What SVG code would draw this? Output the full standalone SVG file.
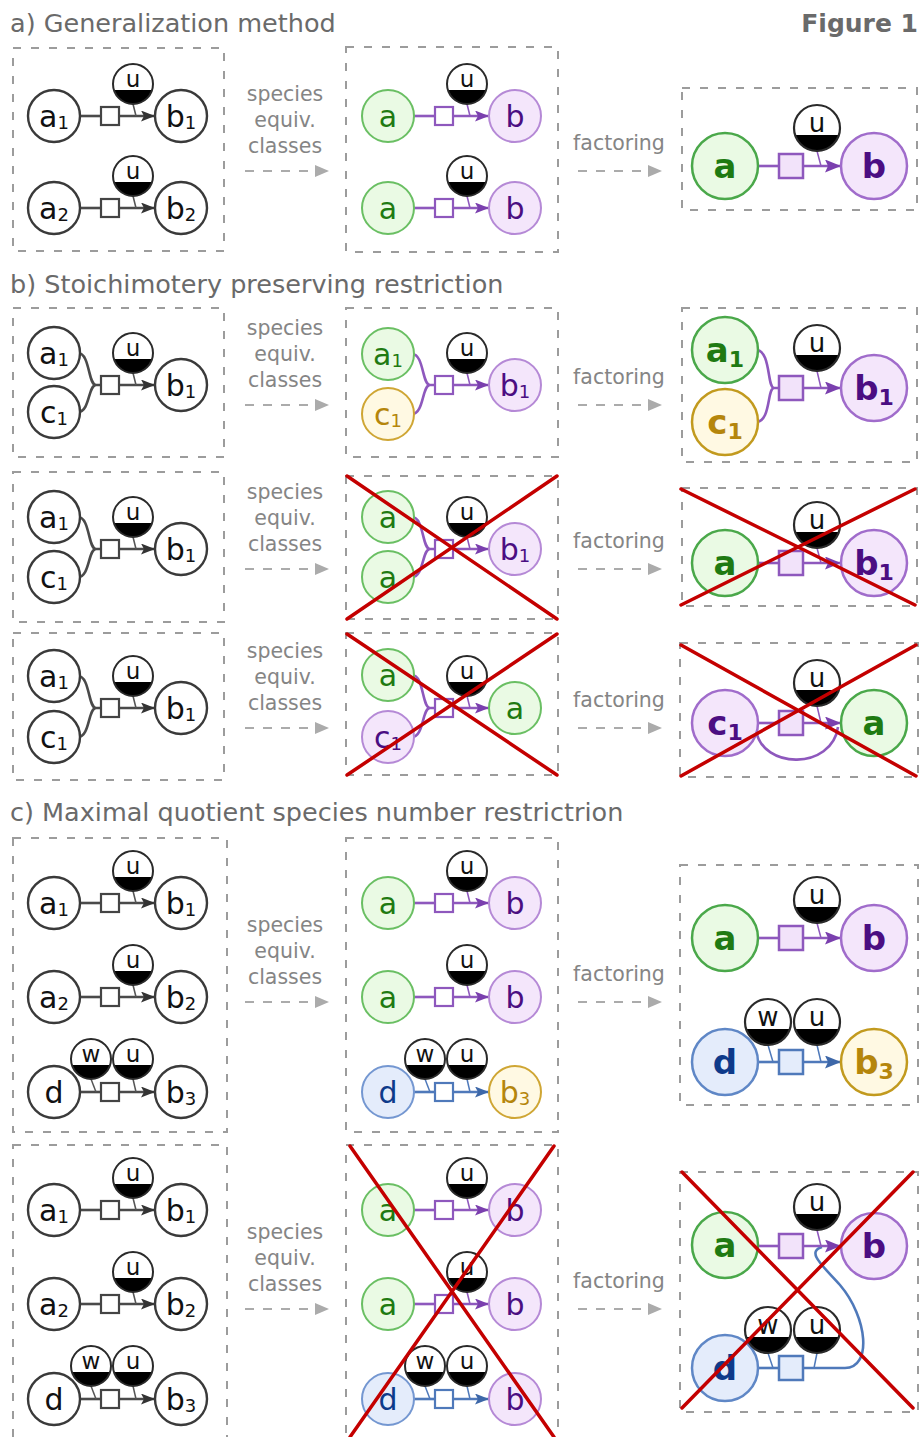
<svg xmlns="http://www.w3.org/2000/svg" xmlns:xlink="http://www.w3.org/1999/xlink" width="922" height="1437" viewBox="0 0 922 1437">
<defs>
<style>
text{font-family:'DejaVu Sans','Liberation Sans',sans-serif}
.title{font-size:25.5px;fill:#6a6a6a}
.fig{font-size:25px;font-weight:bold;fill:#6a6a6a;text-anchor:end}
.lab{font-size:20.5px;fill:#858585;text-anchor:middle}
.box{fill:none;stroke:#9c9c9c;stroke-width:2;stroke-dasharray:8 10}
.da{fill:none;stroke:#ababab;stroke-width:2;stroke-dasharray:9 9}
.n0{fill:#fff;stroke:#3a3a3a;stroke-width:2.4}
.ng{fill:#eafae4;stroke:#6abf63;stroke-width:2}
.np{fill:#f4e6fb;stroke:#b589d6;stroke-width:2}
.ny{fill:#fff9e3;stroke:#cfa634;stroke-width:2}
.nb{fill:#e4ecfb;stroke:#7497d1;stroke-width:2}
.Ng{fill:#eafae4;stroke:#4aa84a;stroke-width:2.5}
.Np{fill:#f4e6fb;stroke:#a06ccb;stroke-width:2.5}
.Ny{fill:#fff9e3;stroke:#c29a1e;stroke-width:2.5}
.Nb{fill:#e4ecfb;stroke:#5f87c6;stroke-width:2.5}
.t{font-size:30px;text-anchor:middle;fill:#111}
.T{font-size:34px;font-weight:bold;text-anchor:middle}
.s{font-size:18px}
.S{font-size:22px}
.tg{fill:#1f7a12}.tp{fill:#4b0e82}.ty{fill:#b5860c}.tb{fill:#0e3a8a}
.tu{font-size:23px;text-anchor:middle;fill:#111}
.TU{font-size:26px;text-anchor:middle;fill:#111}
.lk{fill:none;stroke:#4a4a4a;stroke-width:2.6}
.lp{fill:none;stroke:#8e58bd;stroke-width:2.6}
.lb{fill:none;stroke:#4f79ba;stroke-width:2.6}
.mk{fill:none;stroke:#555;stroke-width:1.5}
.mp{fill:none;stroke:#8e58bd;stroke-width:1.5}
.mb{fill:none;stroke:#4f79ba;stroke-width:1.5}
.sk{fill:#fff;stroke:#444;stroke-width:2.2}
.sp{fill:#fff;stroke:#8e58bd;stroke-width:2.2}
.sb{fill:#fff;stroke:#4f79ba;stroke-width:2.2}
.Sp{fill:#f2e3fa;stroke:#8e58bd;stroke-width:2.5}
.Sb{fill:#e4ecfb;stroke:#4f79ba;stroke-width:2.5}
.x{stroke:#c40000;stroke-width:3.5;stroke-linecap:round}
</style>
<marker id="ak" markerUnits="userSpaceOnUse" markerWidth="15" markerHeight="11" refX="14" refY="5.5" orient="auto"><path d="M0,0 L14,5.5 L0,11 L3,5.5 Z" fill="#333"/></marker>
<marker id="ap" markerUnits="userSpaceOnUse" markerWidth="15" markerHeight="11" refX="14" refY="5.5" orient="auto"><path d="M0,0 L14,5.5 L0,11 L3,5.5 Z" fill="#7a3fae"/></marker>
<marker id="ab" markerUnits="userSpaceOnUse" markerWidth="15" markerHeight="11" refX="14" refY="5.5" orient="auto"><path d="M0,0 L14,5.5 L0,11 L3,5.5 Z" fill="#3d67a8"/></marker>
<marker id="aP" markerUnits="userSpaceOnUse" markerWidth="17" markerHeight="13" refX="16" refY="6.5" orient="auto"><path d="M0,0 L16,6.5 L0,13 L3,6.5 Z" fill="#7a3fae"/></marker>
<marker id="aB" markerUnits="userSpaceOnUse" markerWidth="17" markerHeight="13" refX="16" refY="6.5" orient="auto"><path d="M0,0 L16,6.5 L0,13 L3,6.5 Z" fill="#3d67a8"/></marker>
<marker id="ag" markerUnits="userSpaceOnUse" markerWidth="15" markerHeight="12" refX="14" refY="6" orient="auto"><path d="M0,0 L14,6 L0,12 Z" fill="#ababab"/></marker>
<g id="m"><circle r="20" fill="#fff"/><path d="M-19.1,6 A20,20 0 0 0 19.1,6 Z" fill="#000"/><circle r="20" fill="none" stroke="#2a2a2a" stroke-width="2"/></g>
<g id="M"><circle r="23" fill="#fff"/><path d="M-22,7 A23,23 0 0 0 22,7 Z" fill="#000"/><circle r="23" fill="none" stroke="#2a2a2a" stroke-width="2.2"/></g>
</defs>

<g id="titles">
<text class="title" x="10" y="32">a) Generalization method</text>
<text class="fig" x="918" y="32">Figure 1</text>
<text class="title" x="10" y="293">b) Stoichimotery preserving restriction</text>
<text class="title" x="10" y="821">c) Maximal quotient species number restrictrion</text>
</g>

<g id="boxes">
<rect class="box" x="13" y="48" width="211" height="203"/>
<rect class="box" x="346" y="47" width="212" height="205"/>
<rect class="box" x="682" y="88" width="235" height="122"/>
<rect class="box" x="13" y="308" width="211" height="149"/>
<rect class="box" x="346" y="308" width="212" height="149"/>
<rect class="box" x="682" y="308" width="235" height="154"/>
<rect class="box" x="13" y="472" width="211" height="150"/>
<rect class="box" x="346" y="476" width="212" height="143"/>
<rect class="box" x="682" y="488" width="235" height="118"/>
<rect class="box" x="13" y="633" width="211" height="147"/>
<rect class="box" x="346" y="633" width="212" height="142"/>
<rect class="box" x="680" y="643" width="238" height="134"/>
<rect class="box" x="13" y="838" width="214" height="294"/>
<rect class="box" x="346" y="838" width="212" height="294"/>
<rect class="box" x="680" y="865" width="238" height="240"/>
<rect class="box" x="13" y="1145" width="214" height="310"/>
<rect class="box" x="346" y="1145" width="212" height="310"/>
<rect class="box" x="680" y="1172" width="238" height="240"/>
</g>

<g id="labels">
<text class="lab" x="285" y="101">species</text><text class="lab" x="285" y="127">equiv.</text><text class="lab" x="285" y="153">classes</text>
<text class="lab" x="619" y="150">factoring</text>
<text class="lab" x="285" y="335">species</text><text class="lab" x="285" y="361">equiv.</text><text class="lab" x="285" y="387">classes</text>
<text class="lab" x="619" y="384">factoring</text>
<text class="lab" x="285" y="499">species</text><text class="lab" x="285" y="525">equiv.</text><text class="lab" x="285" y="551">classes</text>
<text class="lab" x="619" y="548">factoring</text>
<text class="lab" x="285" y="658">species</text><text class="lab" x="285" y="684">equiv.</text><text class="lab" x="285" y="710">classes</text>
<text class="lab" x="619" y="707">factoring</text>
<text class="lab" x="285" y="932">species</text><text class="lab" x="285" y="958">equiv.</text><text class="lab" x="285" y="984">classes</text>
<text class="lab" x="619" y="981">factoring</text>
<text class="lab" x="285" y="1239">species</text><text class="lab" x="285" y="1265">equiv.</text><text class="lab" x="285" y="1291">classes</text>
<text class="lab" x="619" y="1288">factoring</text>
</g>

<g id="connectors">
<path class="da" d="M245,171H329" marker-end="url(#ag)"/><path class="da" d="M578,171H662" marker-end="url(#ag)"/>
<path class="da" d="M245,405H329" marker-end="url(#ag)"/><path class="da" d="M578,405H662" marker-end="url(#ag)"/>
<path class="da" d="M245,569H329" marker-end="url(#ag)"/><path class="da" d="M578,569H662" marker-end="url(#ag)"/>
<path class="da" d="M245,728H329" marker-end="url(#ag)"/><path class="da" d="M578,728H662" marker-end="url(#ag)"/>
<path class="da" d="M245,1002H329" marker-end="url(#ag)"/><path class="da" d="M578,1002H662" marker-end="url(#ag)"/>
<path class="da" d="M245,1309H329" marker-end="url(#ag)"/><path class="da" d="M578,1309H662" marker-end="url(#ag)"/>

<path class="lk" d="M80,116H101"/><path class="lk" d="M119,116H155" marker-end="url(#ak)"/><path class="mk" d="M133,104L136,116"/>
<path class="lk" d="M80,208H101"/><path class="lk" d="M119,208H155" marker-end="url(#ak)"/><path class="mk" d="M133,196L136,208"/>
<path class="lp" d="M414,116H435"/><path class="lp" d="M453,116H489" marker-end="url(#ap)"/><path class="mp" d="M467,104L470,116"/>
<path class="lp" d="M414,208H435"/><path class="lp" d="M453,208H489" marker-end="url(#ap)"/><path class="mp" d="M467,196L470,208"/>
<path class="lp" d="M758,166H779"/><path class="lp" d="M803,166H841" marker-end="url(#aP)"/><path class="mp" d="M817,151L821,166"/>

<path class="lk" d="M78,353C90,353 88,385 96,385H101M78,412C90,412 88,385 96,385"/><path class="lk" d="M119,385H155" marker-end="url(#ak)"/><path class="mk" d="M133,373L136,385"/>
<path class="lp" d="M412,354C424,354 422,385 430,385H435M412,414C424,414 422,385 430,385"/><path class="lp" d="M453,385H489" marker-end="url(#ap)"/><path class="mp" d="M467,373L470,385"/>
<path class="lp" d="M756,350C771,350 767,388 774,388H779M756,422C771,422 767,388 774,388"/><path class="lp" d="M803,388H841" marker-end="url(#aP)"/><path class="mp" d="M817,371L821,388"/>
<path class="lk" d="M78,517C90,517 88,549 96,549H101M78,577C90,577 88,549 96,549"/><path class="lk" d="M119,549H155" marker-end="url(#ak)"/><path class="mk" d="M133,537L136,549"/>
<path class="lp" d="M412,517C424,517 422,549 430,549H435M412,577C424,577 422,549 430,549"/><path class="lp" d="M453,549H489" marker-end="url(#ap)"/><path class="mp" d="M467,537L470,549"/>
<path class="lp" d="M758,563H779"/><path class="lp" d="M803,563H841" marker-end="url(#aP)"/><path class="mp" d="M817,548L821,563"/>
<path class="lk" d="M78,676C90,676 88,708 96,708H101M78,737C90,737 88,708 96,708"/><path class="lk" d="M119,708H155" marker-end="url(#ak)"/><path class="mk" d="M133,696L136,708"/>
<path class="lp" d="M412,675C424,675 422,708 430,708H435M412,737C424,737 422,708 430,708"/><path class="lp" d="M453,708H489" marker-end="url(#ap)"/><path class="mp" d="M467,696L470,708"/>
<path class="lp" d="M758,723H779"/><path class="lp" d="M803,723H841" marker-end="url(#aP)"/><path class="mp" d="M817,706L821,723"/>
<path class="lp" d="M756,730C762,770 832,770 838,727"/>

<path class="lk" d="M80,903H101"/><path class="lk" d="M119,903H155" marker-end="url(#ak)"/><path class="mk" d="M133,891L136,903"/>
<path class="lk" d="M80,997H101"/><path class="lk" d="M119,997H155" marker-end="url(#ak)"/><path class="mk" d="M133,985L136,997"/>
<path class="lk" d="M80,1092H101"/><path class="lk" d="M119,1092H155" marker-end="url(#ak)"/><path class="mk" d="M91,1079L96,1092"/><path class="mk" d="M133,1079L136,1092"/>
<path class="lp" d="M414,903H435"/><path class="lp" d="M453,903H489" marker-end="url(#ap)"/><path class="mp" d="M467,891L470,903"/>
<path class="lp" d="M414,997H435"/><path class="lp" d="M453,997H489" marker-end="url(#ap)"/><path class="mp" d="M467,985L470,997"/>
<path class="lb" d="M414,1092H435"/><path class="lb" d="M453,1092H489" marker-end="url(#ab)"/><path class="mb" d="M425,1079L430,1092"/><path class="mb" d="M467,1079L470,1092"/>
<path class="lp" d="M758,938H779"/><path class="lp" d="M803,938H841" marker-end="url(#aP)"/><path class="mp" d="M817,923L821,938"/>
<path class="lb" d="M758,1062H779"/><path class="lb" d="M803,1062H841" marker-end="url(#aB)"/><path class="mb" d="M768,1045L773,1062"/><path class="mb" d="M817,1045L821,1062"/>

<path class="lk" d="M80,1210H101"/><path class="lk" d="M119,1210H155" marker-end="url(#ak)"/><path class="mk" d="M133,1198L136,1210"/>
<path class="lk" d="M80,1304H101"/><path class="lk" d="M119,1304H155" marker-end="url(#ak)"/><path class="mk" d="M133,1292L136,1304"/>
<path class="lk" d="M80,1399H101"/><path class="lk" d="M119,1399H155" marker-end="url(#ak)"/><path class="mk" d="M91,1386L96,1399"/><path class="mk" d="M133,1386L136,1399"/>
<path class="lp" d="M414,1210H435"/><path class="lp" d="M453,1210H489" marker-end="url(#ap)"/><path class="mp" d="M467,1198L470,1210"/>
<path class="lp" d="M414,1304H435"/><path class="lp" d="M453,1304H489" marker-end="url(#ap)"/><path class="mp" d="M467,1292L470,1304"/>
<path class="lb" d="M414,1399H435"/><path class="lb" d="M453,1399H489" marker-end="url(#ab)"/><path class="mb" d="M425,1386L430,1399"/><path class="mb" d="M467,1386L470,1399"/>
<path class="lb" d="M758,1368H779"/><path class="mb" d="M768,1353L773,1368"/><path class="mb" d="M817,1353L814,1368"/>
<path class="lb" d="M803,1368H845C872,1368 868,1318 840,1285C822,1265 806,1252 822,1247"/>
<path class="lp" d="M758,1246H779"/><path class="lp" d="M803,1246H841" marker-end="url(#aP)"/><path class="mp" d="M817,1230L821,1246"/>
</g>

<g id="A-c1-a1"><circle class="n0" cx="54" cy="116" r="26"/><text class="t" x="54" y="127">a<tspan class="s" dy="2">1</tspan></text></g>
<g id="A-c1-r1"><rect class="sk" x="101" y="107" width="18" height="18"/></g>
<g id="A-c1-u1"><use xlink:href="#m" href="#m" x="133" y="84"/><text class="tu" x="133" y="87">u</text></g>
<g id="A-c1-b1"><circle class="n0" cx="181" cy="116" r="26"/><text class="t" x="181" y="127">b<tspan class="s" dy="2">1</tspan></text></g>
<g id="A-c1-a2"><circle class="n0" cx="54" cy="208" r="26"/><text class="t" x="54" y="219">a<tspan class="s" dy="2">2</tspan></text></g>
<g id="A-c1-r2"><rect class="sk" x="101" y="199" width="18" height="18"/></g>
<g id="A-c1-u2"><use xlink:href="#m" href="#m" x="133" y="176"/><text class="tu" x="133" y="179">u</text></g>
<g id="A-c1-b2"><circle class="n0" cx="181" cy="208" r="26"/><text class="t" x="181" y="219">b<tspan class="s" dy="2">2</tspan></text></g>

<g id="A-c2-a1"><circle class="ng" cx="388" cy="116" r="26"/><text class="t tg" x="388" y="127">a</text></g>
<g id="A-c2-r1"><rect class="sp" x="435" y="107" width="18" height="18"/></g>
<g id="A-c2-u1"><use xlink:href="#m" href="#m" x="467" y="84"/><text class="tu" x="467" y="87">u</text></g>
<g id="A-c2-b1"><circle class="np" cx="515" cy="116" r="26"/><text class="t tp" x="515" y="127">b</text></g>
<g id="A-c2-a2"><circle class="ng" cx="388" cy="208" r="26"/><text class="t tg" x="388" y="219">a</text></g>
<g id="A-c2-r2"><rect class="sp" x="435" y="199" width="18" height="18"/></g>
<g id="A-c2-u2"><use xlink:href="#m" href="#m" x="467" y="176"/><text class="tu" x="467" y="179">u</text></g>
<g id="A-c2-b2"><circle class="np" cx="515" cy="208" r="26"/><text class="t tp" x="515" y="219">b</text></g>

<g id="A-c3-a"><circle class="Ng" cx="725" cy="166" r="33"/><text class="T tg" x="725" y="178">a</text></g>
<g id="A-c3-r"><rect class="Sp" x="779" y="154" width="24" height="24"/></g>
<g id="A-c3-u"><use xlink:href="#M" href="#M" x="817" y="128"/><text class="TU" x="817" y="131.5">u</text></g>
<g id="A-c3-b"><circle class="Np" cx="874" cy="166" r="33"/><text class="T tp" x="874" y="178">b</text></g>

<g id="B1-c1-a1"><circle class="n0" cx="54" cy="353" r="26"/><text class="t" x="54" y="364">a<tspan class="s" dy="2">1</tspan></text></g>
<g id="B1-c1-c1"><circle class="n0" cx="54" cy="412" r="26"/><text class="t" x="54" y="423">c<tspan class="s" dy="2">1</tspan></text></g>
<g id="B1-c1-r"><rect class="sk" x="101" y="376" width="18" height="18"/></g>
<g id="B1-c1-u"><use xlink:href="#m" href="#m" x="133" y="353"/><text class="tu" x="133" y="356">u</text></g>
<g id="B1-c1-b1"><circle class="n0" cx="181" cy="385" r="26"/><text class="t" x="181" y="396">b<tspan class="s" dy="2">1</tspan></text></g>

<g id="B1-c2-a1"><circle class="ng" cx="388" cy="354" r="26"/><text class="t tg" x="388" y="365">a<tspan class="s" dy="2">1</tspan></text></g>
<g id="B1-c2-c1"><circle class="ny" cx="388" cy="414" r="26"/><text class="t ty" x="388" y="425">c<tspan class="s" dy="2">1</tspan></text></g>
<g id="B1-c2-r"><rect class="sp" x="435" y="376" width="18" height="18"/></g>
<g id="B1-c2-u"><use xlink:href="#m" href="#m" x="467" y="353"/><text class="tu" x="467" y="356">u</text></g>
<g id="B1-c2-b1"><circle class="np" cx="515" cy="385" r="26"/><text class="t tp" x="515" y="396">b<tspan class="s" dy="2">1</tspan></text></g>

<g id="B1-c3-a1"><circle class="Ng" cx="725" cy="350" r="33"/><text class="T tg" x="725" y="362">a<tspan class="S" dy="5">1</tspan></text></g>
<g id="B1-c3-c1"><circle class="Ny" cx="725" cy="422" r="33"/><text class="T ty" x="725" y="434">c<tspan class="S" dy="5">1</tspan></text></g>
<g id="B1-c3-r"><rect class="Sp" x="779" y="376" width="24" height="24"/></g>
<g id="B1-c3-u"><use xlink:href="#M" href="#M" x="817" y="348"/><text class="TU" x="817" y="351.5">u</text></g>
<g id="B1-c3-b1"><circle class="Np" cx="874" cy="388" r="33"/><text class="T tp" x="874" y="400">b<tspan class="S" dy="5">1</tspan></text></g>

<g id="B2-c1-a1"><circle class="n0" cx="54" cy="517" r="26"/><text class="t" x="54" y="528">a<tspan class="s" dy="2">1</tspan></text></g>
<g id="B2-c1-c1"><circle class="n0" cx="54" cy="577" r="26"/><text class="t" x="54" y="588">c<tspan class="s" dy="2">1</tspan></text></g>
<g id="B2-c1-r"><rect class="sk" x="101" y="540" width="18" height="18"/></g>
<g id="B2-c1-u"><use xlink:href="#m" href="#m" x="133" y="517"/><text class="tu" x="133" y="520">u</text></g>
<g id="B2-c1-b1"><circle class="n0" cx="181" cy="549" r="26"/><text class="t" x="181" y="560">b<tspan class="s" dy="2">1</tspan></text></g>

<g id="B2-c2-a1"><circle class="ng" cx="388" cy="517" r="26"/><text class="t tg" x="388" y="528">a</text></g>
<g id="B2-c2-a2"><circle class="ng" cx="388" cy="577" r="26"/><text class="t tg" x="388" y="588">a</text></g>
<g id="B2-c2-r"><rect class="sp" x="435" y="540" width="18" height="18"/></g>
<g id="B2-c2-u"><use xlink:href="#m" href="#m" x="467" y="517"/><text class="tu" x="467" y="520">u</text></g>
<g id="B2-c2-b1"><circle class="np" cx="515" cy="549" r="26"/><text class="t tp" x="515" y="560">b<tspan class="s" dy="2">1</tspan></text></g>

<g id="B2-c3-a"><circle class="Ng" cx="725" cy="563" r="33"/><text class="T tg" x="725" y="575">a</text></g>
<g id="B2-c3-r"><rect class="Sp" x="779" y="551" width="24" height="24"/></g>
<g id="B2-c3-u"><use xlink:href="#M" href="#M" x="817" y="525"/><text class="TU" x="817" y="528.5">u</text></g>
<g id="B2-c3-b1"><circle class="Np" cx="874" cy="563" r="33"/><text class="T tp" x="874" y="575">b<tspan class="S" dy="5">1</tspan></text></g>

<g id="B3-c1-a1"><circle class="n0" cx="54" cy="676" r="26"/><text class="t" x="54" y="687">a<tspan class="s" dy="2">1</tspan></text></g>
<g id="B3-c1-c1"><circle class="n0" cx="54" cy="737" r="26"/><text class="t" x="54" y="748">c<tspan class="s" dy="2">1</tspan></text></g>
<g id="B3-c1-r"><rect class="sk" x="101" y="699" width="18" height="18"/></g>
<g id="B3-c1-u"><use xlink:href="#m" href="#m" x="133" y="676"/><text class="tu" x="133" y="679">u</text></g>
<g id="B3-c1-b1"><circle class="n0" cx="181" cy="708" r="26"/><text class="t" x="181" y="719">b<tspan class="s" dy="2">1</tspan></text></g>

<g id="B3-c2-a"><circle class="ng" cx="388" cy="675" r="26"/><text class="t tg" x="388" y="686">a</text></g>
<g id="B3-c2-c1"><circle class="np" cx="388" cy="737" r="26"/><text class="t tp" x="388" y="748">c<tspan class="s" dy="2">1</tspan></text></g>
<g id="B3-c2-r"><rect class="sp" x="435" y="699" width="18" height="18"/></g>
<g id="B3-c2-u"><use xlink:href="#m" href="#m" x="467" y="676"/><text class="tu" x="467" y="679">u</text></g>
<g id="B3-c2-a2"><circle class="ng" cx="515" cy="708" r="26"/><text class="t tg" x="515" y="719">a</text></g>

<g id="B3-c3-c1"><circle class="Np" cx="725" cy="723" r="33"/><text class="T tp" x="725" y="735">c<tspan class="S" dy="5">1</tspan></text></g>
<g id="B3-c3-r"><rect class="Sp" x="779" y="711" width="24" height="24"/></g>
<g id="B3-c3-u"><use xlink:href="#M" href="#M" x="817" y="683"/><text class="TU" x="817" y="686.5">u</text></g>
<g id="B3-c3-a"><circle class="Ng" cx="874" cy="723" r="33"/><text class="T tg" x="874" y="735">a</text></g>

<g id="CU-c1-a1"><circle class="n0" cx="54" cy="903" r="26"/><text class="t" x="54" y="914">a<tspan class="s" dy="2">1</tspan></text></g>
<g id="CU-c1-r1"><rect class="sk" x="101" y="894" width="18" height="18"/></g>
<g id="CU-c1-u1"><use xlink:href="#m" href="#m" x="133" y="871"/><text class="tu" x="133" y="874">u</text></g>
<g id="CU-c1-b1"><circle class="n0" cx="181" cy="903" r="26"/><text class="t" x="181" y="914">b<tspan class="s" dy="2">1</tspan></text></g>
<g id="CU-c1-a2"><circle class="n0" cx="54" cy="997" r="26"/><text class="t" x="54" y="1008">a<tspan class="s" dy="2">2</tspan></text></g>
<g id="CU-c1-r2"><rect class="sk" x="101" y="988" width="18" height="18"/></g>
<g id="CU-c1-u2"><use xlink:href="#m" href="#m" x="133" y="965"/><text class="tu" x="133" y="968">u</text></g>
<g id="CU-c1-b2"><circle class="n0" cx="181" cy="997" r="26"/><text class="t" x="181" y="1008">b<tspan class="s" dy="2">2</tspan></text></g>
<g id="CU-c1-d"><circle class="n0" cx="54" cy="1092" r="26"/><text class="t" x="54" y="1103">d</text></g>
<g id="CU-c1-r3"><rect class="sk" x="101" y="1083" width="18" height="18"/></g>
<g id="CU-c1-w"><use xlink:href="#m" href="#m" x="91" y="1059"/><text class="tu" x="91" y="1062">w</text></g>
<g id="CU-c1-u3"><use xlink:href="#m" href="#m" x="133" y="1059"/><text class="tu" x="133" y="1062">u</text></g>
<g id="CU-c1-b3"><circle class="n0" cx="181" cy="1092" r="26"/><text class="t" x="181" y="1103">b<tspan class="s" dy="2">3</tspan></text></g>

<g id="CU-c2-a1"><circle class="ng" cx="388" cy="903" r="26"/><text class="t tg" x="388" y="914">a</text></g>
<g id="CU-c2-r1"><rect class="sp" x="435" y="894" width="18" height="18"/></g>
<g id="CU-c2-u1"><use xlink:href="#m" href="#m" x="467" y="871"/><text class="tu" x="467" y="874">u</text></g>
<g id="CU-c2-b1"><circle class="np" cx="515" cy="903" r="26"/><text class="t tp" x="515" y="914">b</text></g>
<g id="CU-c2-a2"><circle class="ng" cx="388" cy="997" r="26"/><text class="t tg" x="388" y="1008">a</text></g>
<g id="CU-c2-r2"><rect class="sp" x="435" y="988" width="18" height="18"/></g>
<g id="CU-c2-u2"><use xlink:href="#m" href="#m" x="467" y="965"/><text class="tu" x="467" y="968">u</text></g>
<g id="CU-c2-b2"><circle class="np" cx="515" cy="997" r="26"/><text class="t tp" x="515" y="1008">b</text></g>
<g id="CU-c2-d"><circle class="nb" cx="388" cy="1092" r="26"/><text class="t tb" x="388" y="1103">d</text></g>
<g id="CU-c2-r3"><rect class="sb" x="435" y="1083" width="18" height="18"/></g>
<g id="CU-c2-w"><use xlink:href="#m" href="#m" x="425" y="1059"/><text class="tu" x="425" y="1062">w</text></g>
<g id="CU-c2-u3"><use xlink:href="#m" href="#m" x="467" y="1059"/><text class="tu" x="467" y="1062">u</text></g>
<g id="CU-c2-b3"><circle class="ny" cx="515" cy="1092" r="26"/><text class="t ty" x="515" y="1103">b<tspan class="s" dy="2">3</tspan></text></g>

<g id="CU-c3-a"><circle class="Ng" cx="725" cy="938" r="33"/><text class="T tg" x="725" y="950">a</text></g>
<g id="CU-c3-r1"><rect class="Sp" x="779" y="926" width="24" height="24"/></g>
<g id="CU-c3-u1"><use xlink:href="#M" href="#M" x="817" y="900"/><text class="TU" x="817" y="903.5">u</text></g>
<g id="CU-c3-b"><circle class="Np" cx="874" cy="938" r="33"/><text class="T tp" x="874" y="950">b</text></g>
<g id="CU-c3-d"><circle class="Nb" cx="725" cy="1062" r="33"/><text class="T tb" x="725" y="1074">d</text></g>
<g id="CU-c3-r2"><rect class="Sb" x="779" y="1050" width="24" height="24"/></g>
<g id="CU-c3-w"><use xlink:href="#M" href="#M" x="768" y="1022"/><text class="TU" x="768" y="1025.5">w</text></g>
<g id="CU-c3-u2"><use xlink:href="#M" href="#M" x="817" y="1022"/><text class="TU" x="817" y="1025.5">u</text></g>
<g id="CU-c3-b3"><circle class="Ny" cx="874" cy="1062" r="33"/><text class="T ty" x="874" y="1074">b<tspan class="S" dy="5">3</tspan></text></g>

<g id="CL-c1-a1"><circle class="n0" cx="54" cy="1210" r="26"/><text class="t" x="54" y="1221">a<tspan class="s" dy="2">1</tspan></text></g>
<g id="CL-c1-r1"><rect class="sk" x="101" y="1201" width="18" height="18"/></g>
<g id="CL-c1-u1"><use xlink:href="#m" href="#m" x="133" y="1178"/><text class="tu" x="133" y="1181">u</text></g>
<g id="CL-c1-b1"><circle class="n0" cx="181" cy="1210" r="26"/><text class="t" x="181" y="1221">b<tspan class="s" dy="2">1</tspan></text></g>
<g id="CL-c1-a2"><circle class="n0" cx="54" cy="1304" r="26"/><text class="t" x="54" y="1315">a<tspan class="s" dy="2">2</tspan></text></g>
<g id="CL-c1-r2"><rect class="sk" x="101" y="1295" width="18" height="18"/></g>
<g id="CL-c1-u2"><use xlink:href="#m" href="#m" x="133" y="1272"/><text class="tu" x="133" y="1275">u</text></g>
<g id="CL-c1-b2"><circle class="n0" cx="181" cy="1304" r="26"/><text class="t" x="181" y="1315">b<tspan class="s" dy="2">2</tspan></text></g>
<g id="CL-c1-d"><circle class="n0" cx="54" cy="1399" r="26"/><text class="t" x="54" y="1410">d</text></g>
<g id="CL-c1-r3"><rect class="sk" x="101" y="1390" width="18" height="18"/></g>
<g id="CL-c1-w"><use xlink:href="#m" href="#m" x="91" y="1366"/><text class="tu" x="91" y="1369">w</text></g>
<g id="CL-c1-u3"><use xlink:href="#m" href="#m" x="133" y="1366"/><text class="tu" x="133" y="1369">u</text></g>
<g id="CL-c1-b3"><circle class="n0" cx="181" cy="1399" r="26"/><text class="t" x="181" y="1410">b<tspan class="s" dy="2">3</tspan></text></g>

<g id="CL-c2-a1"><circle class="ng" cx="388" cy="1210" r="26"/><text class="t tg" x="388" y="1221">a</text></g>
<g id="CL-c2-r1"><rect class="sp" x="435" y="1201" width="18" height="18"/></g>
<g id="CL-c2-u1"><use xlink:href="#m" href="#m" x="467" y="1178"/><text class="tu" x="467" y="1181">u</text></g>
<g id="CL-c2-b1"><circle class="np" cx="515" cy="1210" r="26"/><text class="t tp" x="515" y="1221">b</text></g>
<g id="CL-c2-a2"><circle class="ng" cx="388" cy="1304" r="26"/><text class="t tg" x="388" y="1315">a</text></g>
<g id="CL-c2-r2"><rect class="sp" x="435" y="1295" width="18" height="18"/></g>
<g id="CL-c2-u2"><use xlink:href="#m" href="#m" x="467" y="1272"/><text class="tu" x="467" y="1275">u</text></g>
<g id="CL-c2-b2"><circle class="np" cx="515" cy="1304" r="26"/><text class="t tp" x="515" y="1315">b</text></g>
<g id="CL-c2-d"><circle class="nb" cx="388" cy="1399" r="26"/><text class="t tb" x="388" y="1410">d</text></g>
<g id="CL-c2-r3"><rect class="sb" x="435" y="1390" width="18" height="18"/></g>
<g id="CL-c2-w"><use xlink:href="#m" href="#m" x="425" y="1366"/><text class="tu" x="425" y="1369">w</text></g>
<g id="CL-c2-u3"><use xlink:href="#m" href="#m" x="467" y="1366"/><text class="tu" x="467" y="1369">u</text></g>
<g id="CL-c2-b3"><circle class="np" cx="515" cy="1399" r="26"/><text class="t tp" x="515" y="1410">b</text></g>

<g id="CL-c3-a"><circle class="Ng" cx="725" cy="1245" r="33"/><text class="T tg" x="725" y="1257">a</text></g>
<g id="CL-c3-r1"><rect class="Sp" x="779" y="1234" width="24" height="24"/></g>
<g id="CL-c3-u1"><use xlink:href="#M" href="#M" x="817" y="1207"/><text class="TU" x="817" y="1210.5">u</text></g>
<g id="CL-c3-b"><circle class="Np" cx="874" cy="1246" r="33"/><text class="T tp" x="874" y="1258">b</text></g>
<g id="CL-c3-d"><circle class="Nb" cx="725" cy="1368" r="33"/><text class="T tb" x="725" y="1380">d</text></g>
<g id="CL-c3-r2"><rect class="Sb" x="779" y="1356" width="24" height="24"/></g>
<g id="CL-c3-w"><use xlink:href="#M" href="#M" x="768" y="1330"/><text class="TU" x="768" y="1333.5">w</text></g>
<g id="CL-c3-u2"><use xlink:href="#M" href="#M" x="817" y="1330"/><text class="TU" x="817" y="1333.5">u</text></g>

<g id="crosses">
<path class="x" d="M347,476L557,619M557,476L347,619"/>
<path class="x" d="M681,489L915,605M915,489L681,605"/>
<path class="x" d="M347,634L557,775M557,634L347,775"/>
<path class="x" d="M681,645L916,776M916,645L681,776"/>
<path class="x" d="M350,1146L554,1437M554,1146L350,1437"/>
<path class="x" d="M682,1172L913,1408M913,1172L682,1408"/>
</g>
</svg>
